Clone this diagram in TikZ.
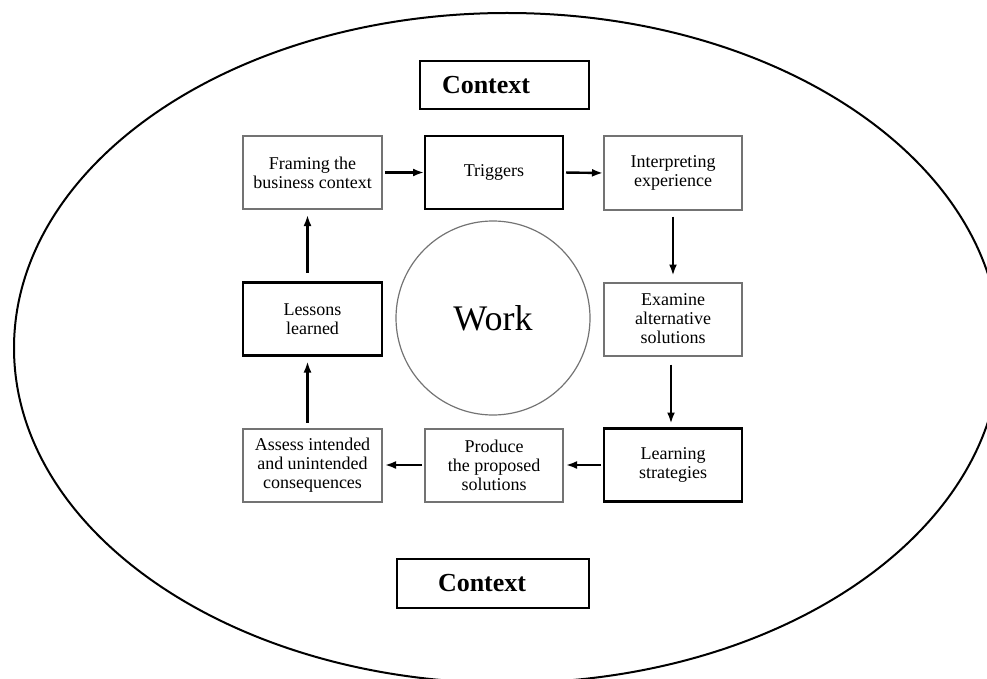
\documentclass[tikz,border=0pt]{standalone}
\usepackage{fontspec}
\setmainfont{Liberation Serif}
\usetikzlibrary{arrows.meta}
\definecolor{boxgray}{RGB}{115,115,115}
\tikzset{
  x=1pt,y=-1pt,
  box/.style={rectangle,inner sep=0pt,outer sep=0pt,minimum width=139pt,minimum height=73pt,
    align=center,font=\fontsize{18}{19}\selectfont},
  graybox/.style={box,draw=boxgray,line width=2pt},
  blackbox/.style={box,draw=black,line width=2.5pt},
  ctxbox/.style={rectangle,draw=black,line width=2.2pt,inner ysep=0pt,outer sep=0pt,
    align=left,font=\fontsize{26}{28}\selectfont\bfseries},
  flow/.style={-{Latex[length=11pt,width=8pt]},line width=2.4pt},
}
\begin{document}
\begin{tikzpicture}
\useasboundingbox (0,0) rectangle (987,679);
\draw[line width=2pt] (507,348) ellipse [x radius=493, y radius=335];

\node[ctxbox,minimum height=48pt,inner xsep=22pt,text width=125pt] (ctop) at (504.5,85) {Context};
\node[ctxbox,minimum height=49pt,inner xsep=41pt,text width=110pt] (cbot) at (493,583.5) {Context};

\node[circle,draw=boxgray,line width=1.2pt,minimum size=194pt,inner sep=0pt,
  font=\fontsize{36}{38}\selectfont] (work) at (493,318) {Work};

\node[graybox] (framing) at (312.5,172.5) {Framing the\\business context};
\node[blackbox,minimum width=138pt] (triggers) at (494,172.5) {Triggers};
\node[graybox,minimum width=138pt] (interp) at (673,173) {Interpreting\\experience};
\node[graybox,minimum width=138pt] (examine) at (673,319) {Examine\\alternative\\solutions};
\node[blackbox,minimum width=138pt] (learning) at (673,465) {Learning\\strategies};
\node[graybox,minimum width=138pt] (produce) at (494,465) {Produce\\the proposed\\solutions};
\node[graybox] (assess) at (312.5,465) {Assess intended\\and unintended\\consequences};
\node[blackbox] (lessons) at (312.5,319) {Lessons\\learned};

\draw[flow,shorten <=3pt,shorten >=1pt] (framing.east) -- (triggers.west);
\draw[flow,shorten <=3pt,shorten >=1pt] (triggers.east) -- (interp.west);
\draw[flow,shorten <=7pt,shorten >=7pt] (interp.south) -- (examine.north);
\draw[flow,shorten <=9pt,shorten >=5pt] ([xshift=-2pt]examine.south) -- ([xshift=-2pt]learning.north);
\draw[flow,shorten <=3pt,shorten >=3pt] (learning.west) -- (produce.east);
\draw[flow,shorten <=3pt,shorten >=3pt] (produce.west) -- (assess.east);
\draw[flow,shorten <=6pt,shorten >=6pt] ([xshift=-5pt]assess.north) -- ([xshift=-5pt]lessons.south);
\draw[flow,shorten <=10pt,shorten >=6pt] ([xshift=-5pt]lessons.north) -- ([xshift=-5pt]framing.south);
\end{tikzpicture}
\end{document}
